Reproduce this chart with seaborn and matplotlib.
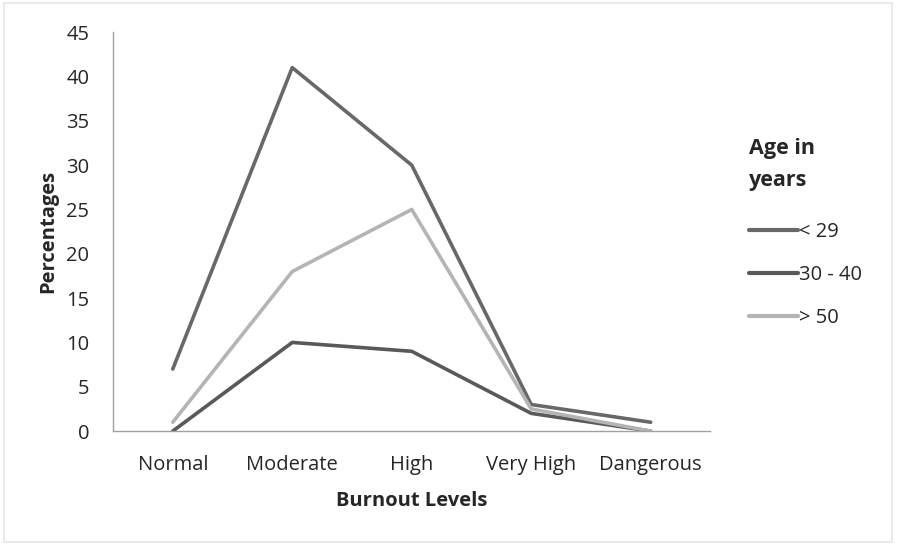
import matplotlib
matplotlib.use("Agg")
import matplotlib.pyplot as plt
import seaborn as sns
import pandas as pd
import numpy as np

categories = ["Normal", "Moderate", "High", "Very High", "Dangerous"]
under_29 = [7, 41, 30, 3, 1]
age_30_40 = [0, 10, 9, 2, 0]
over_50 = [1, 18, 25, 2.5, 0]
series_names = ["< 29", "30 - 40", "> 50"]
yticks = [0, 5, 10, 15, 20, 25, 30, 35, 40, 45]

rows = []
for name, vals in zip(series_names, [under_29, age_30_40, over_50]):
    for c, v in zip(categories, vals):
        rows.append({"Burnout Levels": c, "Percentages": v, "Age": name})
df = pd.DataFrame(rows)

sns.set_style("white")
plt.rcParams['font.family'] = ['Open Sans', 'DejaVu Sans']

FS = 14.5
fig = plt.figure(figsize=(8.97, 5.45), dpi=100)
ax = fig.add_axes([0.126, 0.209, 0.666, 0.732])
palette = {"< 29": "#686868", "30 - 40": "#595959", "> 50": "#b4b4b4"}
sns.lineplot(data=df, x="Burnout Levels", y="Percentages", hue="Age",
             palette=palette, linewidth=2.6, ax=ax, sort=False)

ax.set_xlim(-0.5, 4.5)
ax.set_ylim(0, 45)
ax.set_yticks(yticks)
ax.set_yticklabels([str(t) for t in yticks], fontsize=FS)
ax.set_xticks(range(len(categories)))
ax.set_xticklabels(categories, fontsize=FS)
ax.set_xticks(np.arange(-0.5, 4.6, 1), minor=True)
ax.tick_params(axis='x', which='major', length=0, pad=17)
ax.tick_params(axis='x', which='minor', length=5, color='#a0a0a0', direction='out')
ax.tick_params(axis='y', which='major', length=5, color='#a0a0a0', direction='out', pad=12)
for s in ['top', 'right']:
    ax.spines[s].set_visible(False)
for s in ['left', 'bottom']:
    ax.spines[s].set_color('#a0a0a0')
    ax.spines[s].set_linewidth(1.0)
ax.set_xlabel("Burnout Levels", fontsize=FS, fontweight='bold', labelpad=12)
ax.set_ylabel("Percentages", fontsize=FS, fontweight='bold', labelpad=6)

leg = ax.legend(title="Age in\nyears", loc='upper left', bbox_to_anchor=(1.035, 0.78),
                frameon=False, fontsize=FS, handlelength=2.4, handletextpad=0.05,
                labelspacing=1.15)
leg.get_title().set_fontweight('bold')
leg.get_title().set_fontsize(15.5)
leg.get_title().set_linespacing(1.7)
leg._legend_box.align = "left"
leg._legend_box.sep = 22
for line in leg.get_lines():
    line.set_linewidth(3)

fig.patches.append(plt.Rectangle((0.004, 0.006), 0.99, 0.988, transform=fig.transFigure,
                                 fill=False, edgecolor='#e6e6e6', linewidth=1.2))
fig.savefig("out.png", dpi=100, facecolor='white')
